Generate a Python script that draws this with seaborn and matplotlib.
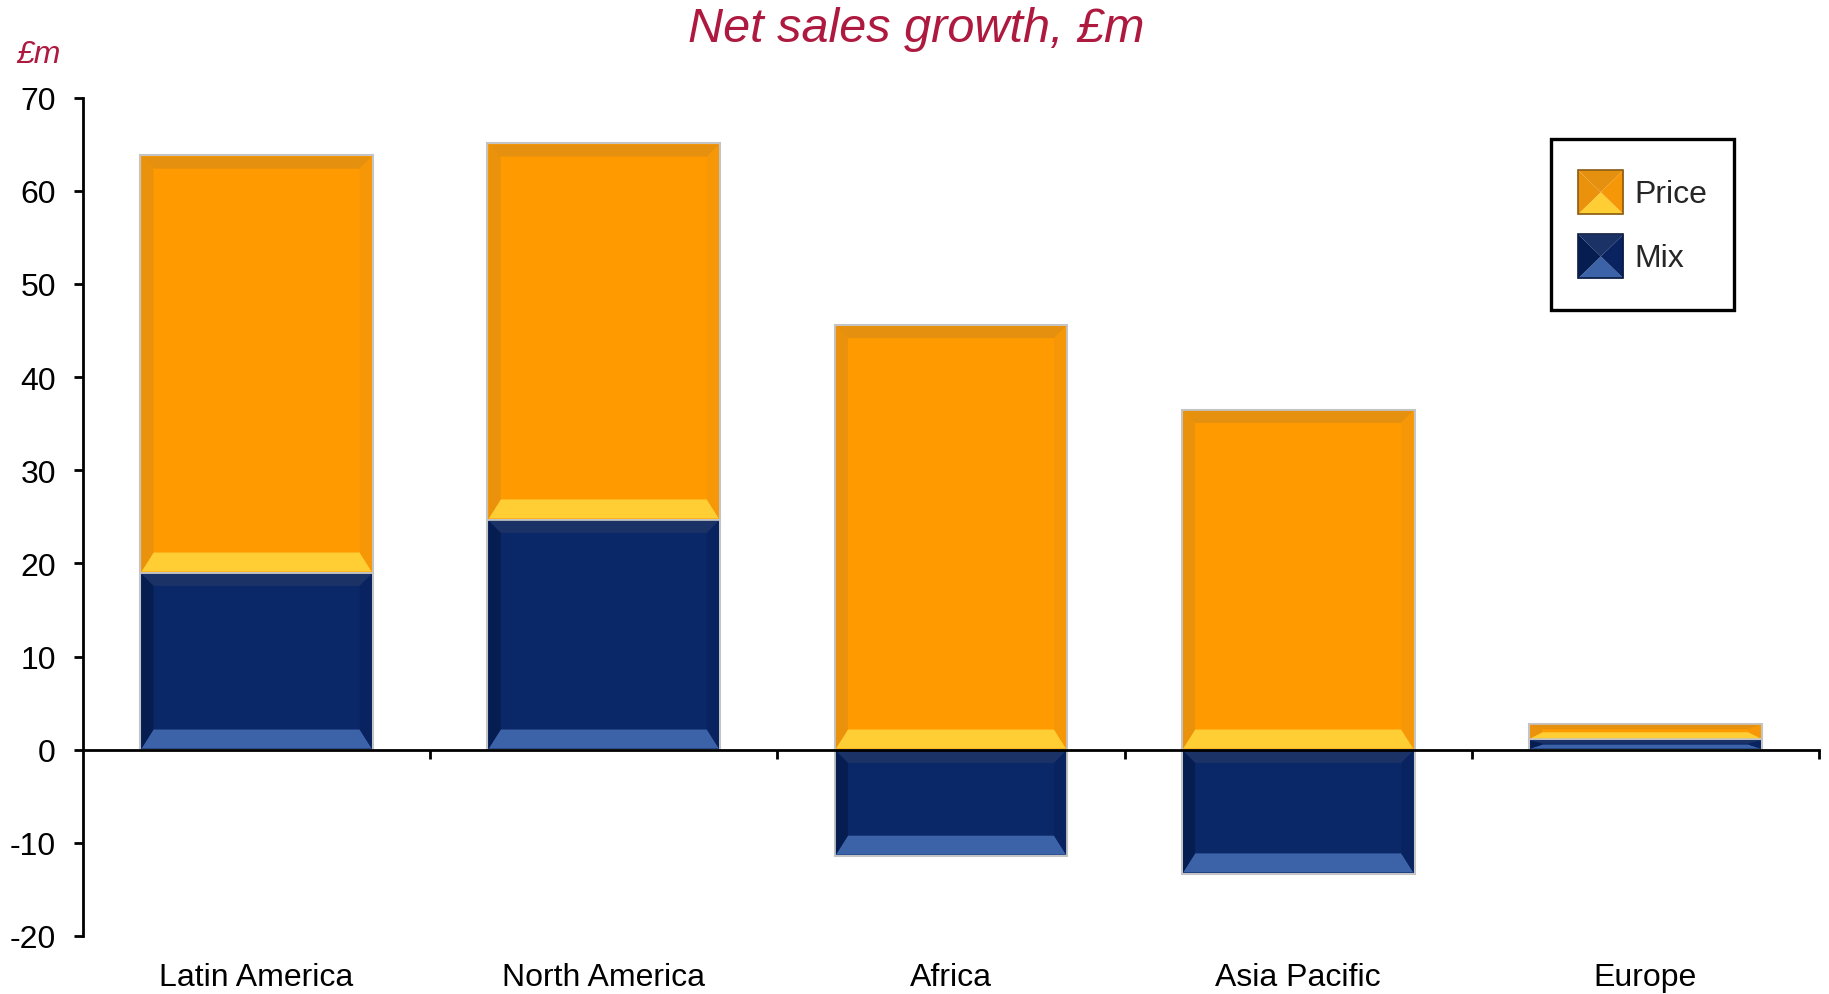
import numpy as np
import pandas as pd
import matplotlib
matplotlib.use("Agg")
import matplotlib.pyplot as plt
import seaborn as sns
from matplotlib.patches import Polygon, Rectangle
from matplotlib.legend_handler import HandlerBase

# ---------------- data ----------------
categories = ["Latin America", "North America", "Africa", "Asia Pacific", "Europe"]
mix = [19.0, 24.7, -11.4, -13.3, 1.1]
price = [44.8, 40.4, 45.6, 36.5, 1.7]
series_names = ["Price", "Mix"]
title_text = "Net sales growth, £m"
unit_label = "£m"
y_ticks = [-20, -10, 0, 10, 20, 30, 40, 50, 60, 70]

# ---------------- style ----------------
ORANGE = "#FF9B00"
NAVY = "#0A2767"
EDGE = "#C4C4C4"
TITLE_COL = "#AE1A3F"
# face, top, bottom, left, right
ORANGE_BEVEL = ["#FF9B00", "#E5900F", "#FFCE34", "#EA920C", "#F69707"]
NAVY_BEVEL = ["#0A2767", "#1B3267", "#3C62A8", "#061D52", "#08235F"]
FS = 23

sns.set_theme(style="white")
plt.rcParams["font.family"] = ["Liberation Sans", "DejaVu Sans"]
plt.rcParams["axes.unicode_minus"] = False

W, H = 1829, 995
fig = plt.figure(figsize=(W / 100, H / 100), dpi=100)
ax_left, ax_right, ax_top, ax_bot = 83, 1819, 98.7, 937
ax = fig.add_axes([ax_left / W, 1 - ax_bot / H, (ax_right - ax_left) / W, (ax_bot - ax_top) / H])

df_mix = pd.DataFrame({"region": categories, "value": mix})
df_price = pd.DataFrame({"region": categories, "value": price})
price_bottom = [max(m, 0.0) for m in mix]

bar_w = 0.67
sns.barplot(data=df_mix, x="region", y="value", order=categories, color=NAVY,
            width=bar_w, saturation=1, errorbar=None, edgecolor=EDGE,
            linewidth=1.5, ax=ax, zorder=2)
sns.barplot(data=df_price, x="region", y="value", order=categories, color=ORANGE,
            width=bar_w, saturation=1, errorbar=None, edgecolor=EDGE,
            linewidth=1.5, ax=ax, bottom=price_bottom, zorder=2)

ax.set_xlim(-0.5, len(categories) - 0.5)
ax.set_ylim(-20, 70)
ax.set_xlabel("")
ax.set_ylabel("")

# ---------------- bevel decoration (derived from the drawn bars) ----------------
pos = ax.get_position()
px_x = pos.width * W / (len(categories))
px_y = pos.height * H / 90.0
inset = 1.2


def bevel(rect, cols):
    x0 = rect.get_x()
    w = rect.get_width()
    y0 = rect.get_y()
    h = rect.get_height()
    yb, yt = min(y0, y0 + h), max(y0, y0 + h)
    x1 = x0 + w
    hpx = (yt - yb) * px_y
    wpx = w * px_x
    if hpx < 1:
        return
    ix = inset / px_x
    iy = inset / px_y
    x0i, x1i, ybi, yti = x0 + ix, x1 - ix, yb + iy, yt - iy
    d_side = min(12, wpx * 0.2) / px_x
    d_top = min(12, hpx * 0.28) / px_y
    d_bot = min(19, hpx * 0.38) / px_y
    ax0, ax1 = x0i + d_side, x1i - d_side
    ayb, ayt = ybi + d_bot, yti - d_top
    face, top, bot, left, right = cols
    polys = [
        ([(x0i, yti), (x1i, yti), (ax1, ayt), (ax0, ayt)], top),
        ([(x0i, ybi), (x1i, ybi), (ax1, ayb), (ax0, ayb)], bot),
        ([(x0i, ybi), (x0i, yti), (ax0, ayt), (ax0, ayb)], left),
        ([(x1i, ybi), (x1i, yti), (ax1, ayt), (ax1, ayb)], right),
    ]
    for pts, c in polys:
        ax.add_patch(Polygon(pts, closed=True, facecolor=c, edgecolor="none", zorder=2.5))


for cont, cols in zip(ax.containers, [NAVY_BEVEL, ORANGE_BEVEL]):
    for rect in cont.patches:
        bevel(rect, cols)

# ---------------- axes styling ----------------
for s in ["top", "right"]:
    ax.spines[s].set_visible(False)
ax.spines["bottom"].set_position(("data", 0))
for s in ["bottom", "left"]:
    ax.spines[s].set_color("black")
    ax.spines[s].set_linewidth(2.0)
    ax.spines[s].set_zorder(3)

ax.set_xticks([i + 0.5 for i in range(len(categories))])
ax.set_xticklabels([])
ax.tick_params(axis="x", bottom=True, direction="out", length=6.5, width=2.0, color="black")
ax.set_yticks(y_ticks)
ax.set_yticklabels([str(v) for v in y_ticks])
ax.tick_params(axis="y", left=True, direction="out", length=6.5, width=2.0, color="black",
               labelsize=FS, pad=13, labelcolor="black")
ax.grid(False)

secax = ax.secondary_xaxis(0.0)
secax.set_xticks(range(len(categories)), labels=categories)
secax.tick_params(axis="x", length=0, pad=19, labelsize=FS, labelcolor="black")
secax.spines["bottom"].set_visible(False)

# ---------------- legend ----------------
class BevelHandler(HandlerBase):
    def __init__(self, cols, edge, frac=44 / 52):
        super().__init__()
        self.cols = cols
        self.edge = edge
        self.frac = frac

    def create_artists(self, legend, orig_handle, xdescent, ydescent, width, height,
                       fontsize, trans):
        hh = height * self.frac
        x0 = -xdescent
        y0 = -ydescent + (height - hh) / 2
        x1, y1 = x0 + width, y0 + hh
        cx, cy = (x0 + x1) / 2, (y0 + y1) / 2
        face, top, bot, left, right = self.cols
        arts = []
        for pts, c in [
            ([(x0, y1), (x1, y1), (cx, cy)], top),
            ([(x0, y0), (x1, y0), (cx, cy)], bot),
            ([(x0, y0), (x0, y1), (cx, cy)], left),
            ([(x1, y0), (x1, y1), (cx, cy)], right),
        ]:
            p = Polygon(pts, closed=True, facecolor=c, edgecolor="none", transform=trans)
            arts.append(p)
        r = Rectangle((x0, y0), width, hh, facecolor="none", edgecolor=self.edge,
                      linewidth=1.2, transform=trans)
        arts.append(r)
        return arts


h_price = Rectangle((0, 0), 1, 1, facecolor=ORANGE)
h_mix = Rectangle((0, 0), 1, 1, facecolor=NAVY)
leg = ax.legend([h_price, h_mix], series_names,
                handler_map={h_price: BevelHandler(ORANGE_BEVEL, "#8A5A10"),
                             h_mix: BevelHandler(NAVY_BEVEL, "#0A1A40")},
                loc="upper left", bbox_to_anchor=(0.8456, 0.9507), borderaxespad=0,
                fontsize=FS, handlelength=1.42, handleheight=2.13, handletextpad=0.33,
                labelspacing=0.38, borderpad=0.85, frameon=True, fancybox=False,
                edgecolor="black", framealpha=1, facecolor="white")
leg.get_frame().set_linewidth(2.4)

# ---------------- titles ----------------
fig.text(0.5008, 0.9705, title_text, ha="center", va="center", fontsize=35,
         style="italic", color=TITLE_COL)
fig.text(16 / W, 1 - 55 / H, unit_label, ha="left", va="center", fontsize=FS,
         style="italic", color=TITLE_COL)

fig.savefig("out.png", dpi=100)
